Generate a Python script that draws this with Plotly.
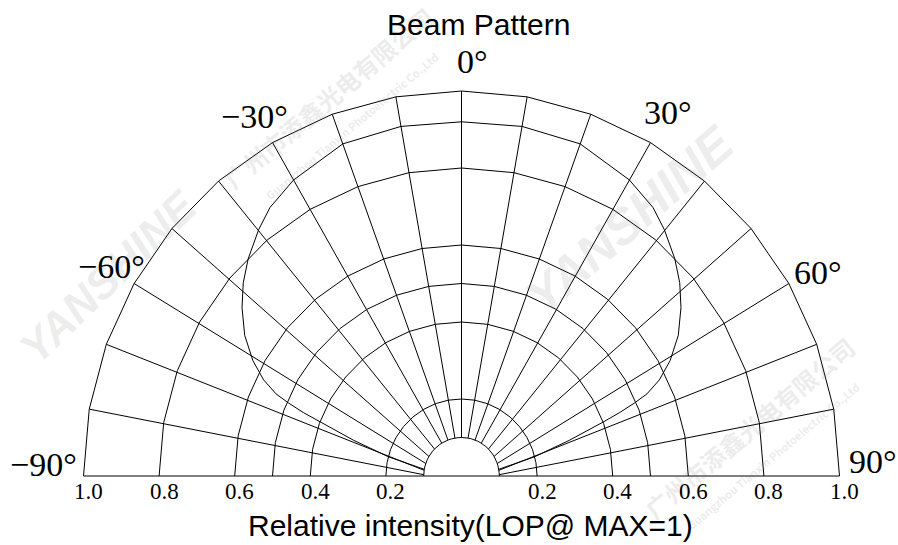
import numpy as np
import plotly.graph_objects as go

# ---------------- data ----------------
ring_radii = [0.1, 0.2, 0.4, 0.5, 0.6, 0.8, 1.0]
spoke_angles = [-80, -70, -60, -50, -40, -30, -20, -10, 0, 10, 20, 30, 40, 50, 60, 70, 80]
# angle at which each spoke meets the inner (0.1) circle
spoke_inner_angles = [-88, -81.5, -71, -59.5, -45.5, -31.5, -21, -10, 0, 10, 21, 31.5, 45.5, 59.5, 71, 81.5, 88]

beam_angle = [-80, -75.5, -72, -69.5, -68.5, -67.5, -66.5, -64.5, -61.5, -57.5, -53, -49, -45, -40, -36, -30, -20, -10,
              0, 10, 20, 30, 36, 40, 45, 49, 53, 57.5, 61.5, 64.5, 66.5, 67.5, 68.5, 69.5, 72, 75.5, 80]
beam_r = [0.10, 0.20, 0.30, 0.40, 0.45, 0.495, 0.535, 0.580, 0.628, 0.680, 0.727, 0.765, 0.798, 0.835, 0.862, 0.888, 0.918, 0.922,
          0.92, 0.922, 0.918, 0.888, 0.862, 0.835, 0.798, 0.765, 0.727, 0.680, 0.628, 0.580, 0.535, 0.495, 0.45, 0.40, 0.30, 0.20, 0.10]

tick_values = [-1.0, -0.8, -0.6, -0.4, -0.2, 0.2, 0.4, 0.6, 0.8, 1.0]
tick_labels = ["1.0", "0.8", "0.6", "0.4", "0.2", "0.2", "0.4", "0.6", "0.8", "1.0"]

angle_label_angles = [-90, -60, -30, 0, 30, 60, 90]
angle_label_texts = ["\u221290°", "\u221260°", "\u221230°", "0°", "30°", "60°", "90°"]

title_text = "Beam Pattern"
axis_title_text = "Relative intensity(LOP@ MAX=1)"
wm_brand = "YANSHINE"
wm_company = "广州市添鑫光电有限公司"
wm_company_en = "Guangzhou Tianxin Photoelectric Co.,Ltd"

# ---------------- helpers ----------------
def pol2xy(r, deg):
    t = np.radians(np.asarray(deg, dtype=float))
    r = np.asarray(r, dtype=float)
    return r * np.sin(t), r * np.cos(t)

W, H = 898, 545
# pixel geometry of the drawing (style)
CXP, CYP, SX, SY = 461.5, 476.0, 378.0, 385.0
xr = [-CXP / SX, (W - CXP) / SX]
yr = [-(H - CYP) / SY, CYP / SY]

fig = go.Figure()

# watermarks
wm_style = dict(showarrow=False, xref="paper", yref="paper", xanchor="center", yanchor="middle")
for (px, py, ang, sz) in [(108, 276, -44, 44), (630, 220, -41, 50)]:
    fig.add_annotation(x=px / W, y=1 - py / H, text="<b><i>" + wm_brand + "</i></b>", textangle=ang, opacity=0.11,
                       font=dict(family="Liberation Sans", size=sz, color="#666666"), **wm_style)
for (px, py) in [(337, 108), (758, 438)]:
    fig.add_annotation(x=px / W, y=1 - py / H, textangle=-40, opacity=0.13,
                       text="<b>" + wm_company + "</b><br><span style='font-size:11px'><b>" + wm_company_en + "</b></span>",
                       font=dict(family="Noto Sans CJK SC", size=24, color="#777777"), **wm_style)

# rings
rx, ry = [], []
for r in ring_radii:
    step = 5 if r < 0.15 else 10
    a = np.arange(-90, 90 + step, step)
    x, y = pol2xy(np.full(a.shape, r), a)
    rx += list(x) + [None]
    ry += list(y) + [None]
fig.add_trace(go.Scatter(x=rx, y=ry, mode="lines", line=dict(color="black", width=1), hoverinfo="skip"))

# spokes
sx, sy = [], []
for a_out, a_in in zip(spoke_angles, spoke_inner_angles):
    x0, y0 = pol2xy(max(ring_radii), a_out)
    x1, y1 = pol2xy(min(ring_radii), a_in)
    sx += [float(x0), float(x1), None]
    sy += [float(y0), float(y1), None]
# baseline (the +/-90 degree spokes)
bx, by = pol2xy([max(ring_radii), max(ring_radii)], [-90, 90])
sx += [float(bx[0]), float(bx[1]), None]
sy += [float(by[0]), float(by[1]), None]
fig.add_trace(go.Scatter(x=sx, y=sy, mode="lines", line=dict(color="black", width=1), hoverinfo="skip"))

# beam curve
cx_, cy_ = pol2xy(beam_r, beam_angle)
fig.add_trace(go.Scatter(x=cx_, y=cy_, mode="lines", line=dict(color="black", width=1), hoverinfo="skip"))

# radial tick labels
for v, t in zip(tick_values, tick_labels):
    fig.add_annotation(x=v, y=0, xref="x", yref="y", text=t, showarrow=False,
                       xshift=5, yshift=-15, xanchor="center", yanchor="middle",
                       font=dict(family="Liberation Serif", size=23, color="black"))

# angle labels (pixel offsets from the outer ring are styling)
label_shift = {-90: (-40, 12), -60: (-23, 17), -30: (-18, 26), 0: (11, 30), 30: (17, 30), 60: (29, 11), 90: (33, 15)}
for a, t in zip(angle_label_angles, angle_label_texts):
    x, y = pol2xy(max(ring_radii), a)
    dx, dy = label_shift[a]
    fig.add_annotation(x=float(x), y=float(y), xref="x", yref="y", text=t, showarrow=False,
                       xshift=dx, yshift=dy, xanchor="center", yanchor="middle",
                       font=dict(family="Liberation Serif", size=34, color="black"))

fig.add_annotation(x=478.7 / W, y=1 - 24 / H, xref="paper", yref="paper", text=title_text, showarrow=False,
                   xanchor="center", yanchor="middle", font=dict(family="Liberation Sans", size=30, color="black"))
fig.add_annotation(x=470.5 / W, y=1 - 525 / H, xref="paper", yref="paper", text=axis_title_text, showarrow=False,
                   xanchor="center", yanchor="middle", font=dict(family="Liberation Sans", size=30, color="black"))

fig.update_layout(
    width=W, height=H, margin=dict(l=0, r=0, t=0, b=0),
    paper_bgcolor="white", plot_bgcolor="white", showlegend=False,
    xaxis=dict(range=xr, visible=False, fixedrange=True),
    yaxis=dict(range=yr, visible=False, fixedrange=True),
)
fig.write_html("out.html", config={"displayModeBar": False, "staticPlot": True},
               post_script="document.body.style.margin='0';document.body.style.padding='0';")
